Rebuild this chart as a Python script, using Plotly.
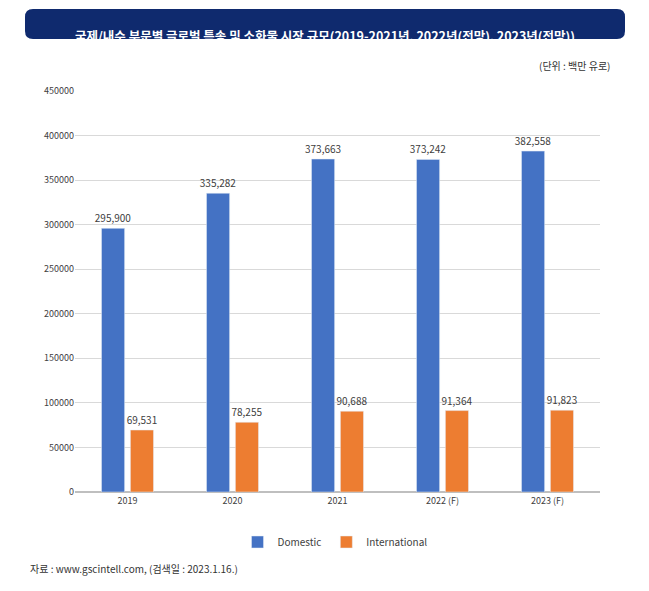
import plotly.graph_objects as go

categories = ["2019", "2020", "2021", "2022 (F)", "2023 (F)"]
domestic = [295900, 335282, 373663, 373242, 382558]
international = [69531, 78255, 90688, 91364, 91823]

W, H = 649, 591
DX, DY = 8, 7
L, R, T, B = 75 - DX, 49 + DX, 90 - DY, 100 + DY
pw, ph = W - L - R, H - T - B
def px(x): return (x - DX - L) / pw
def py(y): return (H - B - (y - DY)) / ph

font = "Noto Sans CJK KR"
fig = go.Figure()
for name, vals, col in [("Domestic", domestic, "#4472C4"), ("International", international, "#ED7D31")]:
    fig.add_bar(x=categories, y=vals, name=name, marker_color=col,
                text=[f"{v:,}" for v in vals], textposition="outside", constraintext="none",
                textfont=dict(size=10, color="#404040"), cliponaxis=False)

r = 8
x0, x1, y0, y1 = 25 - DX, 625 - DX, 8 - DY, 38 - DY
path = (f"M{x0+r},{y0} L{x1-r},{y0} Q{x1},{y0} {x1},{y0+r} L{x1},{y1-r} Q{x1},{y1} {x1-r},{y1} "
        f"L{x0+r},{y1} Q{x0},{y1} {x0},{y1-r} L{x0},{y0+r} Q{x0},{y0} {x0+r},{y0} Z")
# convert pixel path to paper coords
import re
def conv(m):
    a, b = float(m.group(1)), float(m.group(2))
    return f"{(a-L)/pw:.5f},{(H-B-b)/ph:.5f}"
path = re.sub(r"(-?[\d.]+),(-?[\d.]+)", conv, path)

fig.update_layout(
    width=W, height=H, margin=dict(l=L, r=R, t=T, b=B),
    paper_bgcolor="white", plot_bgcolor="white",
    font=dict(family=font, size=10, color="#404040"),
    barmode="group", bargap=0.45, bargroupgap=0.2,
    yaxis=dict(range=[0, 450000], dtick=50000, tickformat="d", gridcolor="#D9D9D9",
               zeroline=True, zerolinecolor="#BFBFBF", tickfont=dict(size=9)),
    xaxis=dict(showline=True, linecolor="#BFBFBF", tickfont=dict(size=9)),
    legend=dict(orientation="h", x=px(335), xanchor="center", y=py(541), yanchor="middle",
                font=dict(size=10)),
    shapes=[dict(type="path", xref="paper", yref="paper", path=path,
                 fillcolor="#0F2A6E", line=dict(width=0), layer="below")],
    annotations=[
        dict(text="<b>국제/내수 부문별 글로벌 특송 및 소화물 시장 규모(2019-2021년, 2022년(전망), 2023년(전망))</b>",
             xref="paper", yref="paper", x=px(325), y=py(23), showarrow=False,
             font=dict(size=12.5, color="white")),
        dict(text="(단위 : 백만 유로)", xref="paper", yref="paper", x=px(612), y=py(55),
             xanchor="right", showarrow=False, font=dict(size=10, color="#333")),
        dict(text="자료 : www.gscintell.com, (검색일 : 2023.1.16.)", xref="paper", yref="paper",
             x=px(28), y=py(577), xanchor="left", showarrow=False, font=dict(size=10, color="#333")),
    ],
)
fig.write_html("out.html")
